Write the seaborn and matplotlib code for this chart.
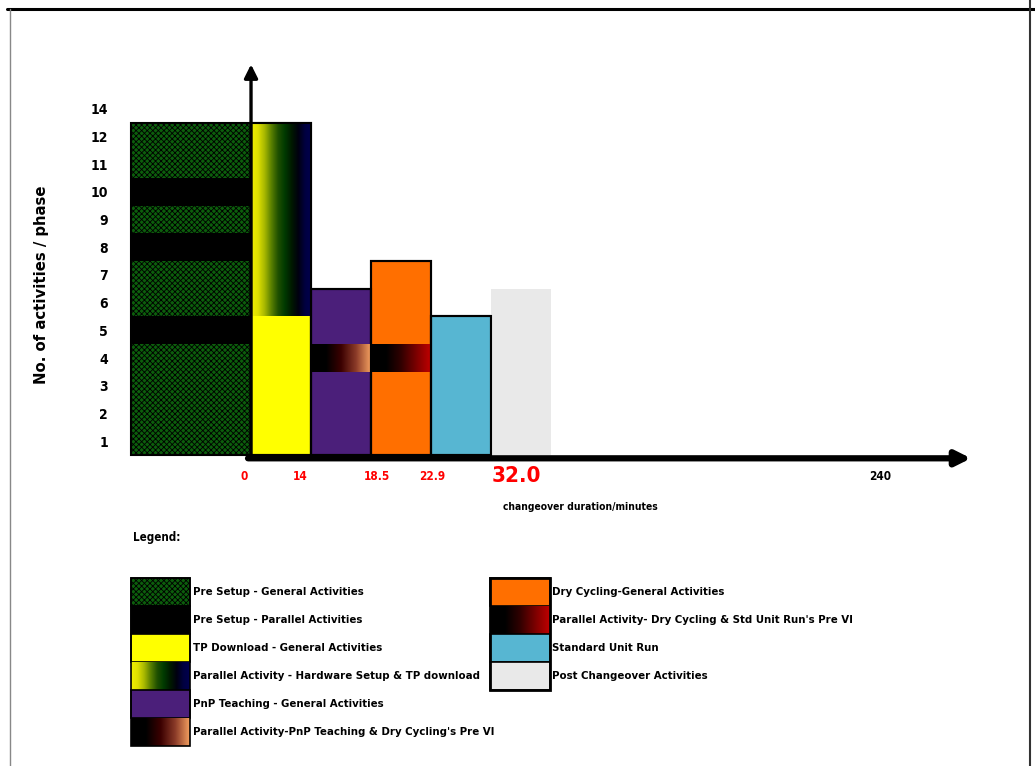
import numpy as np
import pandas as pd
import matplotlib
matplotlib.use("Agg")
import matplotlib.pyplot as plt
import seaborn as sns
from matplotlib.colors import LinearSegmentedColormap

# ---------------- data ----------------
phases = ["Pre Setup", "TP Download", "PnP Teaching", "Dry Cycling",
          "Standard Unit Run", "Post Changeover"]
activities = [12, 12, 6, 7, 5, 6]
# parallel-activity bands (bottom, top) in activity units
presetup_parallel = [(4, 5), (7, 8), (9, 10)]
tp_parallel = (5, 12)
pnp_parallel = (3, 4)
dry_parallel = (3, 4)
ytick_labels = ["1", "2", "3", "4", "5", "6", "7", "8", "9", "10", "11", "12", "14"]
time_labels = ["0", "14", "18.5", "22.9", "32.0", "240"]
legend_col1 = ["Pre Setup - General Activities",
               "Pre Setup - Parallel Activities",
               "TP Download - General Activities",
               "Parallel Activity - Hardware Setup & TP download",
               "PnP Teaching - General Activities",
               "Parallel Activity-PnP Teaching & Dry Cycling's Pre VI"]
legend_col2 = ["Dry Cycling-General Activities",
               "Parallel Activity- Dry Cycling & Std Unit Run's Pre VI",
               "Standard Unit Run",
               "Post Changeover Activities"]

# ---------------- styles ----------------
bar_colors = ["#0c5e0c", "#ffff00", "#4b1f7a", "#ff6f00", "#57b6d2", "#e9e9e9"]
cm_tp = LinearSegmentedColormap.from_list(
    "tp", ["#f0f000", "#e0e000", "#a8b800", "#5a8000", "#1f5000", "#003a00",
           "#001a00", "#000010", "#000040", "#000050"])
cm_pnp = LinearSegmentedColormap.from_list("pnp", ["#000000", "#000000", "#3a0000", "#8a3a28", "#f4a060"])
cm_dry = LinearSegmentedColormap.from_list("dry", ["#000000", "#000000", "#300000", "#7a0000", "#c00000"])
time_tick_pos = [0.38, 1.32, 2.6, 3.52, 4.93, 10.98]
time_colors = ["red", "red", "red", "red", "red", "black"]
time_sizes = [8.5, 8.5, 8.5, 8.5, 16, 8.5]

sns.set_theme(style="white")
plt.rcParams["font.family"] = ["DejaVu Sans"]
plt.rcParams["font.stretch"] = "condensed"
plt.rcParams["text.color"] = "black"
plt.rcParams["ytick.color"] = "black"
plt.rcParams["hatch.linewidth"] = 0.6

W, H = 1035, 766
fig = plt.figure(figsize=(W / 100, H / 100), dpi=100)
fig.patch.set_facecolor("white")

# overlay axes in pixel coordinates (frame + legend)
ov = fig.add_axes([0, 0, 1, 1], zorder=0)
ov.set_xlim(0, W)
ov.set_ylim(H, 0)
ov.axis("off")

# main chart axes
L, R, T, B = 115, 1000, 50, 480
ax = fig.add_axes([L / W, 1 - B / H, (R - L) / W, (B - T) / H], zorder=1)
ax.patch.set_visible(False)

df = pd.DataFrame({"phase": phases, "activities": activities})
sns.barplot(data=df, x="phase", y="activities", hue="phase", order=phases,
            hue_order=phases, palette=bar_colors, saturation=1, width=1,
            legend=False, edgecolor="black", linewidth=1.5, ax=ax)

# Pre Setup spans two units and is textured
pre = ax.containers[0][0]
pre.set_x(-1.5)
pre.set_width(2)
pre.set_hatch("xxxxxx")
pre.set_edgecolor("black")
# Post changeover has no outline
ax.containers[5][0].set_linewidth(0)

# Pre Setup parallel bands
for b0, b1 in presetup_parallel:
    ax.bar(-0.5, b1 - b0, bottom=b0, width=2, color="black", linewidth=0, zorder=3)

grad = np.linspace(0, 1, 256).reshape(1, -1)
for idx, (b0, b1), cm in [(1, tp_parallel, cm_tp), (2, pnp_parallel, cm_pnp), (3, dry_parallel, cm_dry)]:
    ax.imshow(grad, extent=[idx - 0.5, idx + 0.5, b0, b1], aspect="auto", cmap=cm,
              zorder=3, interpolation="bilinear")

# outlines on top of gradients
ax.bar(range(1, 5), activities[1:5], width=1, fill=False, edgecolor="black",
       linewidth=1.5, zorder=4)

xl = (-1.767, 12.983)
yl = (-0.903, 14.62)
ax.set_xlim(*xl)
ax.set_ylim(*yl)
for s in ax.spines.values():
    s.set_visible(False)
ax.set_xticks([])
ax.set_yticks(np.arange(len(ytick_labels)) + 0.5)
ax.set_yticklabels(ytick_labels, fontsize=10, fontweight="bold", color="black")
ax.tick_params(axis="y", length=0, pad=5)
ax.set_xlabel("")
ax.set_ylabel("")

# axis arrows
ax.annotate("", xy=(0.5, 14.1), xytext=(0.5, -0.05),
            arrowprops=dict(arrowstyle="-|>", lw=2.4, color="black", mutation_scale=20,
                            shrinkA=0, shrinkB=0), zorder=6)
ax.annotate("", xy=(12.5, -0.12), xytext=(0.45, -0.12),
            arrowprops=dict(arrowstyle="-|>", lw=4.5, color="black", mutation_scale=22,
                            shrinkA=0, shrinkB=0), zorder=6)

for lab, xp, c, fs in zip(time_labels, time_tick_pos, time_colors, time_sizes):
    ax.text(xp, -0.76, lab, color=c, fontsize=fs, fontweight="bold",
            ha="center", va="center")

fig.text(580 / W, 1 - 507 / H, "changeover duration/minutes", fontsize=7.4,
         fontweight="bold", ha="center", va="center")
fig.text(42 / W, 1 - 285 / H, "No. of activities / phase", fontsize=10.7,
         fontweight="bold", fontstretch="normal", rotation=90, ha="center", va="center")

# ---------------- frame ----------------
ov.plot([7, W], [9, 9], color="black", lw=2.2)
ov.plot([10, 10], [9, H], color="#888888", lw=1)
ov.plot([1030, 1030], [0, H], color="#333333", lw=1.5)

# ---------------- legend ----------------
ov.text(133, 538, "Legend:", fontsize=8.3, fontweight="bold", va="center", ha="left")
row_h = 28
rows1 = [592 + i * row_h for i in range(len(legend_col1))]
rows2 = [592 + i * row_h for i in range(len(legend_col2))]
sw1, sw2 = (131, 190), (490, 550)
styles1 = [("hatch", bar_colors[0]), ("solid", "black"), ("solid", bar_colors[1]),
           ("grad", cm_tp), ("solid", bar_colors[2]), ("grad", cm_pnp)]
styles2 = [("solid", bar_colors[3]), ("grad", cm_dry), ("solid", bar_colors[4]),
           ("solid", bar_colors[5])]


def swatch(x0, x1, yc, style):
    kind, val = style
    y0, y1 = yc - row_h / 2, yc + row_h / 2
    if kind == "grad":
        ov.imshow(grad, extent=[x0, x1, y1, y0], aspect="auto", cmap=val,
                  interpolation="bilinear", zorder=2)
    else:
        ov.add_patch(plt.Rectangle((x0, y0), x1 - x0, y1 - y0, facecolor=val,
                                   edgecolor="black", linewidth=1.2,
                                   hatch="xxxxxx" if kind == "hatch" else None, zorder=2))


for lab, yc, st in zip(legend_col1, rows1, styles1):
    swatch(*sw1, yc, st)
    ov.text(193, yc, lab, fontsize=8.2, fontweight="bold", va="center", ha="left")
for lab, yc, st in zip(legend_col2, rows2, styles2):
    swatch(*sw2, yc, st)
    ov.text(552, yc, lab, fontsize=8.2, fontweight="bold", va="center", ha="left")
ov.add_patch(plt.Rectangle((sw2[0], rows2[0] - row_h / 2), sw2[1] - sw2[0],
                           row_h * len(rows2), fill=False, edgecolor="black", lw=2, zorder=3))
ov.add_patch(plt.Rectangle((sw1[0], rows1[0] - row_h / 2), sw1[1] - sw1[0],
                           row_h * len(rows1), fill=False, edgecolor="black", lw=1.2, zorder=3))

ov.set_xlim(0, W)
ov.set_ylim(H, 0)

fig.savefig("out.png", dpi=100, facecolor="white")
